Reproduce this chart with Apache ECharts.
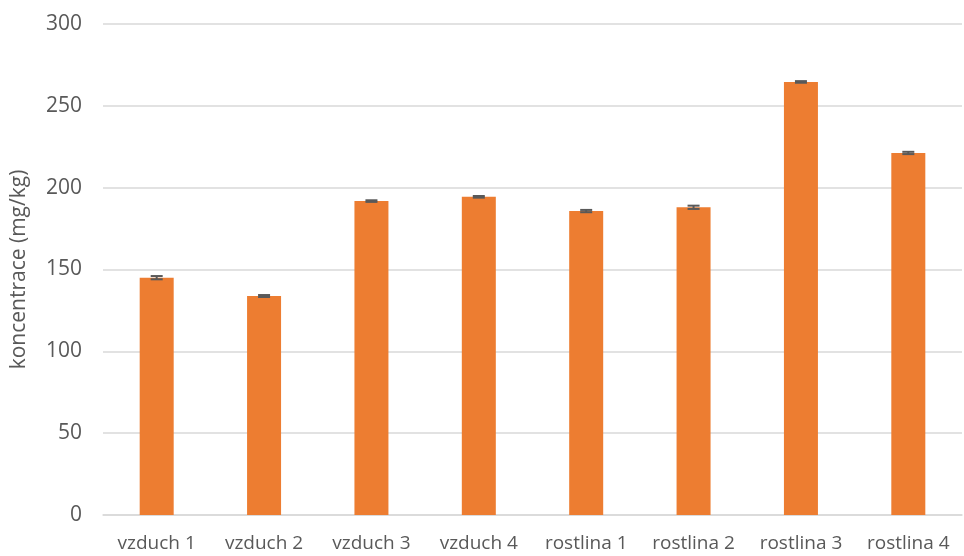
<!DOCTYPE html>
<html>
<head>
<meta charset="utf-8">
<script src="https://cdn.jsdelivr.net/npm/echarts@6/dist/echarts.min.js"></script>
<style>
html, body { margin: 0; padding: 0; background: #fff; }
#main { width: 964px; height: 556px; }
</style>
</head>
<body>
<div id="main"></div>
<script>
// kategorie a hodnoty
var categories = ['vzduch 1', 'vzduch 2', 'vzduch 3', 'vzduch 4', 'rostlina 1', 'rostlina 2', 'rostlina 3', 'rostlina 4'];
var values = [145.0, 133.8, 191.8, 194.4, 185.7, 188.0, 264.6, 221.2];
var errors = [1.0, 0.6, 0.5, 0.5, 0.7, 1.0, 0.5, 0.7];
var yTicks = [0, 50, 100, 150, 200, 250, 300];

var myChart = echarts.init(document.getElementById('main'));

var errData = values.map(function (v, i) {
    return [i, v - errors[i], v + errors[i]];
});

var option = {
    animation: false,
    textStyle: { fontFamily: 'Open Sans' },
    grid: { left: 103, right: 2, top: 24, bottom: 41 },
    xAxis: {
        type: 'category',
        data: categories,
        axisLine: { lineStyle: { color: '#d9d9d9', width: 1.5 } },
        axisTick: { show: false },
        axisLabel: { color: '#595959', fontSize: 19, margin: 19, interval: 0, hideOverlap: false }
    },
    yAxis: {
        type: 'value',
        min: yTicks[0],
        max: yTicks[yTicks.length - 1],
        interval: 50,
        name: 'koncentrace (mg/kg)',
        nameLocation: 'middle',
        nameGap: 73,
        nameTextStyle: { color: '#595959', fontSize: 21 },
        axisLine: { show: false },
        axisTick: { show: false },
        axisLabel: { color: '#595959', fontSize: 21, margin: 21 },
        splitLine: { lineStyle: { color: '#d9d9d9', width: 1.5 } }
    },
    series: [
        {
            type: 'bar',
            data: values,
            barWidth: 34,
            itemStyle: { color: '#ED7D31' }
        },
        {
            type: 'custom',
            data: errData,
            z: 10,
            renderItem: function (params, api) {
                var x = api.value(0);
                var lo = api.coord([x, api.value(1)]);
                var hi = api.coord([x, api.value(2)]);
                var hw = 6;
                var st = { stroke: '#595959', lineWidth: 2 };
                return {
                    type: 'group',
                    children: [
                        { type: 'line', shape: { x1: lo[0], y1: lo[1], x2: hi[0], y2: hi[1] }, style: st },
                        { type: 'line', shape: { x1: lo[0] - hw, y1: lo[1], x2: lo[0] + hw, y2: lo[1] }, style: st },
                        { type: 'line', shape: { x1: hi[0] - hw, y1: hi[1], x2: hi[0] + hw, y2: hi[1] }, style: st }
                    ]
                };
            }
        }
    ]
};

myChart.setOption(option);
</script>
</body>
</html>
